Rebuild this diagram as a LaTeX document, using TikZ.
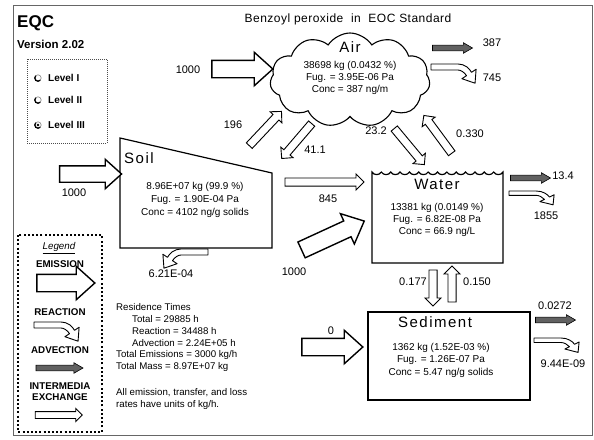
\documentclass[tikz,border=0pt]{standalone}
\usepackage{fontspec}
\setmainfont{Liberation Sans}
\usetikzlibrary{shapes.arrows,shapes.symbols}
\begin{document}
\begin{tikzpicture}[x=1pt,y=-1pt,
  emis/.style={single arrow, draw, line width=1.4pt, fill=white, inner xsep=0pt, inner ysep=8pt,
    single arrow head extend=8pt, single arrow tip angle=84},
  exch/.style={single arrow, draw, line width=0.9pt, fill=white, inner xsep=0pt, inner ysep=3.6pt,
    single arrow head extend=4pt, single arrow tip angle=90},
  advec/.style={single arrow, draw, line width=0.6pt, fill=black!62, inner xsep=0pt, inner ysep=2.6pt,
    single arrow head extend=2.4pt, single arrow tip angle=60, minimum height=40pt},
  lbl/.style={font=\fontsize{11}{13}\selectfont, inner sep=0pt},
  dat/.style={font=\fontsize{10}{12}\selectfont, inner sep=0pt},
  comp/.style={font=\fontsize{15}{18}\selectfont\addfontfeatures{LetterSpace=10}, inner sep=0pt},
  txt/.style={font=\fontsize{9.7}{11}\selectfont, inner sep=0pt, anchor=west},
  leg/.style={font=\fontsize{9.8}{11}\selectfont\bfseries, inner sep=0pt},
  lev/.style={font=\fontsize{10}{12}\selectfont\bfseries, inner sep=0pt, anchor=west},
  reac/.pic={\draw[line width=0.9pt, fill=white, line join=round]
     (0,0) -- (27,0) .. controls (34,0) and (38.5,4.5) .. (40.5,8.35)
     -- (45.1,5.3) -- (44.05,19.2) -- (30.9,14.7) -- (35.5,11.65)
     .. controls (33.5,8.5) and (30,6) .. (27,6) -- (0,6) -- cycle;}
]
\useasboundingbox (0,0) rectangle (594,439);
% outer frame
\draw[black!60, line width=0.8pt] (13,5) rectangle (592,435);

% titles
\node[font=\fontsize{17}{20}\selectfont\bfseries, anchor=west, inner sep=0pt] (eqc) at (17,23.5) {EQC};
\node[font=\fontsize{11.5}{14}\selectfont\bfseries, anchor=west, inner sep=0pt] (ver) at (17,44) {Version 2.02};
\node[font=\fontsize{12}{14}\selectfont\addfontfeatures{LetterSpace=4}, inner sep=0pt] (title) at (348,19) {Benzoyl peroxide\ \ in\ \ EOC Standard};

% level box
\draw[black!70, line width=0.8pt, dash pattern=on 1pt off 1pt] (27,59) rectangle (107,143);
\foreach \yy/\nm/\t in {78/l1/Level I, 100/l2/Level II, 125/l3/Level III}{
  \draw[line width=0.6pt, black!50] (38,\yy) circle (3.2);
  \draw[line width=1.3pt] (38,\yy) ++(45:3.2) arc (45:225:3.2);
  \node[lev] (\nm) at (48,\yy) {\t};
}
\fill (38,125) circle (1.3);

% Air cloud
\node[cloud, draw, line width=1.1pt, cloud puffs=11, cloud puff arc=115, aspect=1.75,
      minimum width=160pt, minimum height=94pt, inner sep=0pt] (air) at (350,80) {};
\node[comp] (airt) at (350,47) {Air};
\node[dat] (air1) at (350,66) {38698 kg (0.0432 \%)};
\node[dat] (air2) at (350,78) {Fug. = 3.95E-06 Pa};
\node[dat] (air3) at (350,90) {Conc = 387 ng/m};

% Soil
\draw[line width=1.2pt] (120,138) coordinate (s1) -- (272,173) coordinate (s2)
   -- (272,248) coordinate (s3) -- (120,248) coordinate (s4) -- cycle;
\node[comp, anchor=west] (soilt) at (124,158) {Soil};
\node[dat] (soil1) at (195,187) {8.96E+07 kg (99.9 \%)};
\node[dat] (soil2) at (195,200) {Fug. = 1.90E-04 Pa};
\node[dat] (soil3) at (195,213) {Conc = 4102 ng/g solids};

% Water
\draw[line width=1.2pt] (372,263) -- (372,172)
   \foreach \i in {1,...,14}{ .. controls +(2,3.5) and +(-2,3.5) .. ++(9.357,0)}
   -- (503,263) -- cycle;
\node[comp] (watt) at (437,184) {Water};
\node[dat] (wat1) at (437,208) {13381 kg (0.0149 \%)};
\node[dat] (wat2) at (437,220) {Fug. = 6.82E-08 Pa};
\node[dat] (wat3) at (437,232) {Conc = 66.9 ng/L};

% Sediment
\draw[line width=1.2pt] (368,312) rectangle (530,400);
\node[comp] (sedt) at (435,322) {Sediment};
\node[dat] (sed1) at (441,348) {1362 kg (1.52E-03 \%)};
\node[dat] (sed2) at (441,360) {Fug. = 1.26E-07 Pa};
\node[dat] (sed3) at (441,373) {Conc = 5.47 ng/g solids};

% emission arrows
\node[emis, minimum height=61pt] (emA) at (237.5,69) {};
\node[lbl] at (188,70) {1000};
\node[emis, minimum height=62pt, inner ysep=7.5pt, single arrow head extend=6.5pt] (emS) at (86,174) {};
\node[lbl] at (74,193) {1000};
\node[emis, minimum height=69pt, rotate=24.7] (emW) at (328.5,237.5) {};
\node[lbl] at (294,272) {1000};
\node[emis, minimum height=61pt] (emD) at (327.5,347) {};
\node[lbl] at (331,331) {0};

% exchange arrows
\node[exch, minimum height=47pt, rotate=46.7] (x196) at (264,130) {};
\node[lbl] at (233,125) {196};
\node[exch, minimum height=46pt, rotate=229.4] (x411) at (298,139.5) {};
\node[lbl] at (315,150) {41.1};
\node[exch, minimum height=47pt, rotate=-50.2] (x232) at (408,145) {};
\node[lbl] at (376,131) {23.2};
\node[exch, minimum height=47pt, rotate=126.4] (x330) at (439,136) {};
\node[lbl] at (470,134) {0.330};
\node[exch, minimum height=79pt] (x845) at (322.5,182) {};
\node[lbl] at (328,199) {845};
\node[exch, minimum height=36pt, rotate=-90] (x177) at (433,286) {};
\node[lbl] at (413,282) {0.177};
\node[exch, minimum height=36pt, rotate=90] (x150) at (452,286) {};
\node[lbl] at (477,282) {0.150};

% advection arrows
\node[advec] (adA) at (450,48) {};
\node[lbl] at (492,43) {387};
\node[advec] (adW) at (528,178) {};
\node[lbl] at (563,176) {13.4};
\node[advec] (adD) at (553,320) {};
\node[lbl] at (555,306) {0.0272};

% reaction arrows
\pic (rA) at (431,64) {reac};
\node[lbl] at (492,78) {745};
\pic[yscale=0.72] (rW) at (509,191) {reac};
\node[lbl] at (546,216) {1855};
\pic[yscale=0.75] (rD) at (534,338) {reac};
\node[lbl] at (563,364) {9.44E-09};
\pic[xscale=-1] (rS) at (208,249) {reac};
\node[lbl] at (171,274) {6.21E-04};

% legend
\draw[line width=1.2pt, dash pattern=on 2pt off 2.2pt] (18,235) rectangle (102,432);
\node[font=\fontsize{9.8}{11}\selectfont\itshape, inner sep=1pt] (legt) at (59,248) {\underline{Legend}};
\node[leg] (legE) at (60,264) {EMISSION};
\node[emis, minimum height=58pt] (legEa) at (61,283) {};
\node[leg] (legR) at (60,312) {REACTION};
\pic (legRa) at (34,322) {reac};
\node[leg] (legA) at (60,350) {ADVECTION};
\node[advec, minimum height=47pt] (legAa) at (57,368) {};
\node[leg] (legI) at (60,386) {INTERMEDIA};
\node[leg] (legX) at (60,397) {EXCHANGE};
\node[exch, minimum height=47pt, inner ysep=3pt, single arrow head extend=3pt] (legXa) at (57,415) {};

% residence times
\node[txt] (r1) at (116,307) {Residence Times};
\node[txt] (r2) at (132,319) {Total = 29885 h};
\node[txt] (r3) at (132,331) {Reaction = 34488 h};
\node[txt] (r4) at (132,343) {Advection = 2.24E+05 h};
\node[txt] (r5) at (116,355) {Total Emissions = 3000 kg/h};
\node[txt] (r6) at (116,367) {Total Mass = 8.97E+07 kg};
\node[txt] (r7) at (116,393) {All emission, transfer, and loss};
\node[txt] (r8) at (116,405) {rates have units of kg/h.};
\end{tikzpicture}
\end{document}
